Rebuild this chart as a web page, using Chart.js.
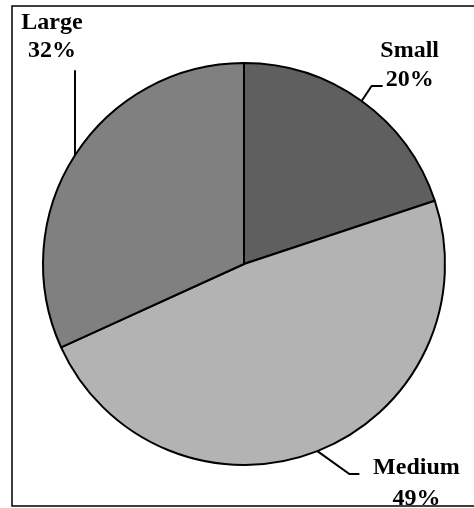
<!DOCTYPE html>
<html>
<head>
<meta charset="utf-8">
<script src="https://cdn.jsdelivr.net/npm/chart.js@4/dist/chart.umd.min.js"></script>
<style>
html,body{margin:0;padding:0;background:#fff;}
#wrap{width:474px;height:508px;position:relative;}
</style>
</head>
<body>
<div id="wrap"><canvas id="c" width="474" height="508"></canvas></div>
<script>
const categories = ['Small', 'Medium', 'Large'];
const shareValues = [19.9, 48.3, 31.8];
const percentLabels = ['20%', '49%', '32%'];
const sliceColors = ['#5f5f5f', '#b3b3b3', '#808080'];

// leader-line / label layout (style, not data)
const leaderElbow = [[10, -15], [32, 23], [0, -85]];
const leaderTail = [11, 10, 0];
const textOffsets = [ // [dx to text centre, baseline of line1, baseline of line2] relative to leader end
  [27, -29, 0],
  [57, 0, 31],
  [-23, -41, -13]
];

const labelPlugin = {
  id: 'labels',
  afterDatasetsDraw(chart) {
    const ctx = chart.ctx;
    const meta = chart.getDatasetMeta(0);
    ctx.save();
    ctx.strokeStyle = '#000';
    ctx.lineWidth = 2;
    ctx.fillStyle = '#000';
    ctx.font = 'bold 24px "Liberation Serif", serif';
    ctx.textAlign = 'center';
    ctx.textBaseline = 'alphabetic';
    meta.data.forEach((arc, i) => {
      const mid = (arc.startAngle + arc.endAngle) / 2;
      const sx = arc.x + arc.outerRadius * Math.cos(mid);
      const sy = arc.y + arc.outerRadius * Math.sin(mid);
      const ex = sx + leaderElbow[i][0];
      const ey = sy + leaderElbow[i][1];
      const tx = ex + leaderTail[i];
      ctx.beginPath();
      ctx.moveTo(sx, sy);
      ctx.lineTo(ex, ey);
      ctx.lineTo(tx, ey);
      ctx.stroke();
      const o = textOffsets[i];
      ctx.fillText(categories[i], tx + o[0], ey + o[1]);
      ctx.fillText(percentLabels[i], tx + o[0], ey + o[2]);
    });
    // frame
    ctx.lineWidth = 1.5;
    ctx.beginPath();
    ctx.moveTo(480, 6);
    ctx.lineTo(12, 6);
    ctx.lineTo(12, 506);
    ctx.lineTo(480, 506);
    ctx.stroke();
    ctx.restore();
  }
};

new Chart(document.getElementById('c'), {
  type: 'pie',
  data: {
    labels: categories,
    datasets: [{
      data: shareValues,
      backgroundColor: sliceColors,
      borderColor: '#000',
      borderWidth: 2
    }]
  },
  options: {
    responsive: false,
    animation: false,
    layout: { padding: { left: 42, right: 28, top: 62, bottom: 42 } },
    plugins: { legend: { display: false }, tooltip: { enabled: false } }
  },
  plugins: [labelPlugin]
});
</script>
</body>
</html>
